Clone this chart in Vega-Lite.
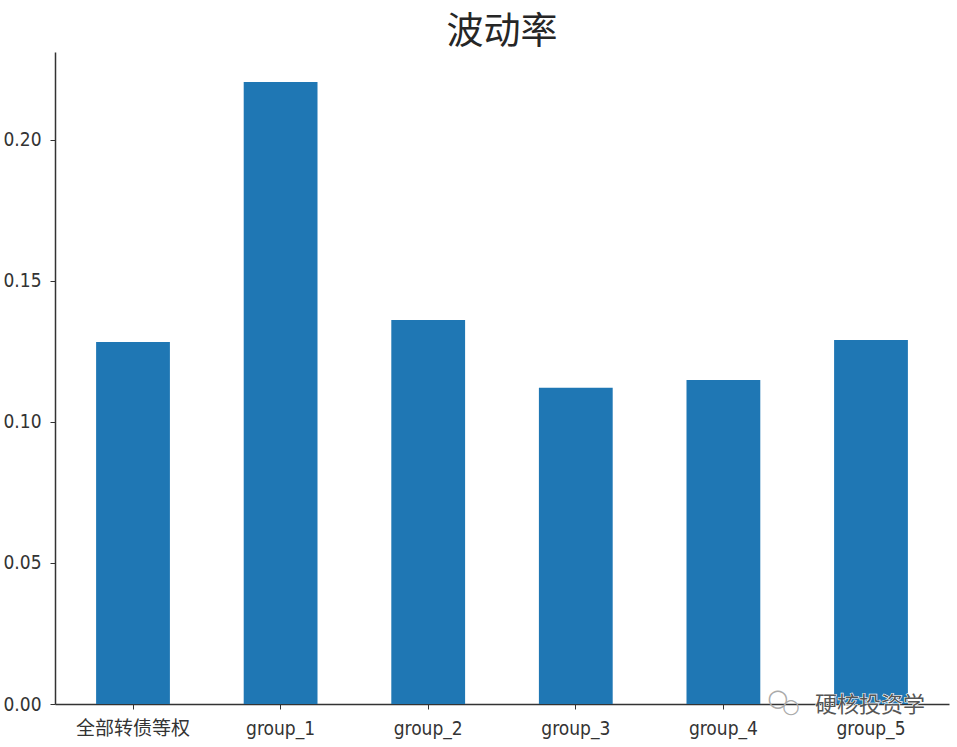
{"$schema":"https://vega.github.io/schema/vega-lite/v6.json","autosize":{"type":"none"},"width":894,"height":652,"padding":{"left":55,"top":52,"right":8,"bottom":43},"background":"white","title":{"text":"波动率","font":"Noto Sans CJK SC","fontSize":37,"fontWeight":"normal","color":"#262626","anchor":"middle","offset":0},"data":{"values":[{"g":"全部转债等权","v":0.1284},{"g":"group_1","v":0.2206},{"g":"group_2","v":0.1362},{"g":"group_3","v":0.1121},{"g":"group_4","v":0.1149},{"g":"group_5","v":0.1291}]},"layer":[{"mark":{"type":"bar","color":"#1f77b4"},"encoding":{"x":{"field":"g","type":"nominal","sort":null,"scale":{"paddingInner":0.5,"paddingOuter":0.2785},"axis":{"title":null,"labelAngle":0,"labelFont":"DejaVu Sans Condensed, Noto Sans CJK SC","labelFontSize":19,"labelColor":"#333333","domainColor":"#333333","domainWidth":1.5,"tickColor":"#333333","tickSize":5,"labelPadding":10}},"y":{"field":"v","type":"quantitative","scale":{"domain":[0,0.2312],"nice":false},"axis":{"title":null,"values":[0,0.05,0.1,0.15,0.2],"format":".2f","grid":false,"labelFont":"DejaVu Sans Condensed, Noto Sans CJK SC","labelFontSize":19,"labelColor":"#333333","domainColor":"#333333","domainWidth":1.5,"tickColor":"#333333","tickSize":5,"labelPadding":9}}}},{"data":{"values":[{"g":"group_5","t":"硬核投资学"}]},"mark":{"type":"text","font":"Noto Sans CJK SC","fontSize":22,"color":"#ffffff","stroke":"#ffffff","strokeWidth":1.2,"align":"center","dy":1,"dx":-1},"encoding":{"x":{"field":"g","type":"nominal","sort":null},"y":{"datum":0,"type":"quantitative"},"text":{"field":"t"}}},{"data":{"values":[{"g":"group_5","t":"硬核投资学"}]},"mark":{"type":"text","font":"Noto Sans CJK SC","fontSize":22,"color":"#555555","align":"center","dy":1,"dx":-1},"encoding":{"x":{"field":"g","type":"nominal","sort":null},"y":{"datum":0,"type":"quantitative"},"text":{"field":"t"}}},{"data":{"values":[{"g":"group_5","t":"○"}]},"mark":{"type":"text","font":"DejaVu Sans","fontSize":24,"color":"#aaaaaa","align":"center","dy":-5,"dx":-93},"encoding":{"x":{"field":"g","type":"nominal","sort":null},"y":{"datum":0,"type":"quantitative"},"text":{"field":"t"}}},{"data":{"values":[{"g":"group_5","t":"○"}]},"mark":{"type":"text","font":"DejaVu Sans","fontSize":20,"color":"#aaaaaa","align":"center","dy":3,"dx":-80},"encoding":{"x":{"field":"g","type":"nominal","sort":null},"y":{"datum":0,"type":"quantitative"},"text":{"field":"t"}}}],"config":{"view":{"stroke":null}}}
